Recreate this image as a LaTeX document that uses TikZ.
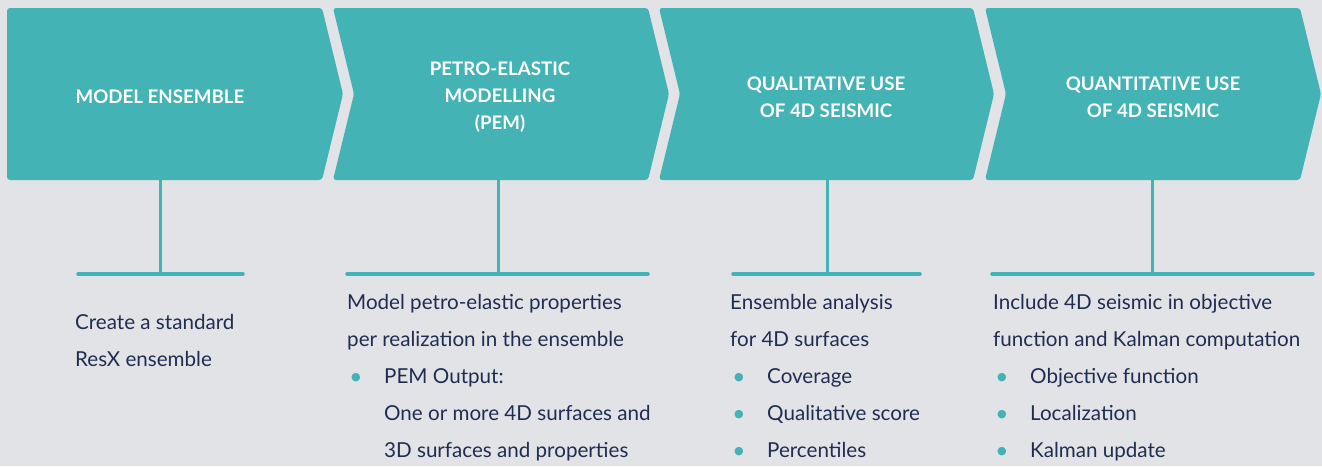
\documentclass[tikz,border=0pt]{standalone}
\usepackage{fontspec}
\setmainfont{Lato}
\newfontfamily\dotfont{DejaVu Sans}
\usetikzlibrary{positioning}
\definecolor{tealbox}{HTML}{43B3B5}
\definecolor{paper}{HTML}{E2E3E7}
\definecolor{ink}{HTML}{1F2E50}
\newcommand{\bul}{\makebox[37pt][l]{\hspace{4pt}\raisebox{2.5pt}{\textcolor{tealbox}{\dotfont\fontsize{11}{11}\selectfont ●}}}}
\newcommand{\ind}{\hspace*{37pt}}
\tikzset{
  chev/.style={fill=tealbox,rounded corners=3pt},
  head/.style={text=white,font=\bfseries\fontsize{18.7}{27}\selectfont,align=center,inner sep=0pt},
  body/.style={text=ink,font=\fontsize{20.6}{37}\selectfont,align=left,anchor=base west,inner sep=0pt},
  bar/.style={draw=tealbox,line width=3.5pt,line cap=round},
  stem/.style={draw=tealbox,line width=3pt}
}
\begin{document}
\begin{tikzpicture}[x=1pt,y=-1pt]
  \fill[paper] (0,0) rectangle (1322,466);
  \useasboundingbox (0,0) rectangle (1322,466);
  \path[chev] (7,8) -- (322,8) -- (343,94) -- (322,180) -- (7,180) -- cycle;
  \path[chev] (333,8) -- (648,8) -- (669,94) -- (648,180) -- (333,180) -- (354,94) -- cycle;
  \path[chev] (659,8) -- (973,8) -- (994,94) -- (973,180) -- (659,180) -- (680,94) -- cycle;
  \path[chev] (985,8) -- (1300,8) -- (1321,94) -- (1300,180) -- (985,180) -- (1006,94) -- cycle;
  \path (160,97) node[head] (ensemble) {MODEL ENSEMBLE}
  (500,97) node[head] (pem) {PETRO-ELASTIC\\MODELLING\\(PEM)}
  (826,97) node[head] (qual) {QUALITATIVE USE\\OF 4D SEISMIC}
  (1153,97) node[head] (quant) {QUANTITATIVE USE\\OF 4D SEISMIC};
  \path (160,180) coordinate (ensemble-b) (498,180) coordinate (pem-b)
  (827,180) coordinate (qual-b) (1152,180) coordinate (quant-b);
  \path (160,274) coordinate (ensemble-m) (498,274) coordinate (pem-m)
  (827,274) coordinate (qual-m) (1152,274) coordinate (quant-m);
  \draw[stem] (ensemble-b) -- (ensemble-m);
  \draw[stem] (pem-b) -- (pem-m);
  \draw[stem] (qual-b) -- (qual-m);
  \draw[stem] (quant-b) -- (quant-m);
  \path (78,274) coordinate (ensemble-l) (243,274) coordinate (ensemble-r)
  (347,274) coordinate (pem-l) (648,274) coordinate (pem-r)
  (733,274) coordinate (qual-l) (920,274) coordinate (qual-r)
  (992,274) coordinate (quant-l) (1313,274) coordinate (quant-r);
  \draw[bar] (ensemble-l) -- (ensemble-r);
  \draw[bar] (pem-l) -- (pem-r);
  \draw[bar] (qual-l) -- (qual-r);
  \draw[bar] (quant-l) -- (quant-r);
  \path (75,366) node[body] (ensemble-t) {Create a standard\\ResX ensemble}
  (347,457) node[body] (pem-t) {Model petro-elastic properties\\per realization in the ensemble\\\bul PEM Output:\\\ind One or more 4D surfaces and\\\ind 3D surfaces and properties}
  (730,457) node[body] (qual-t) {Ensemble analysis\\for 4D surfaces\\\bul Coverage\\\bul Qualitative score\\\bul Percentiles}
  (993,457) node[body] (quant-t) {Include 4D seismic in objective\\function and Kalman computation\\\bul Objective function\\\bul Localization\\\bul Kalman update};
\end{tikzpicture}
\end{document}
